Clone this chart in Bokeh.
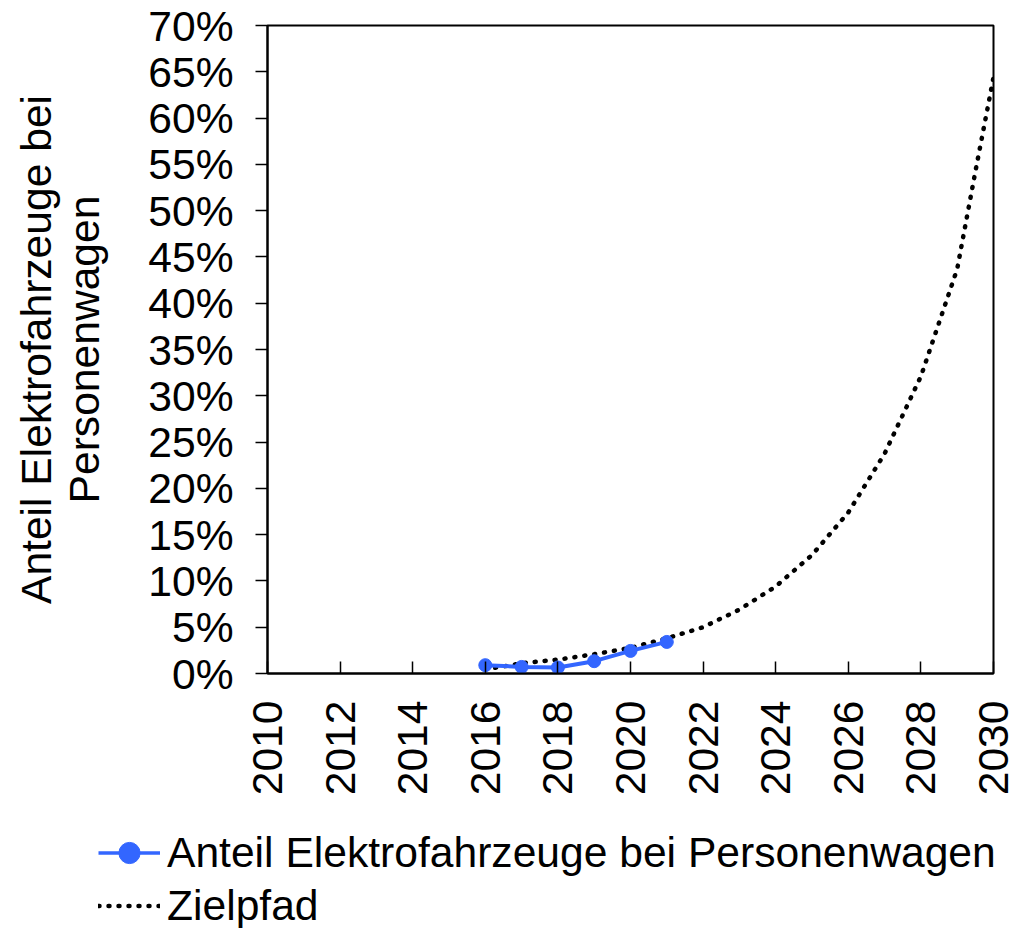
import math
from bokeh.plotting import figure
from bokeh.layouts import column
from bokeh.models import Legend, LegendItem, FixedTicker, NumeralTickFormatter, Range1d
from bokeh.embed import file_html
from bokeh.resources import INLINE

# ---- data ----
years_actual = [2016, 2017, 2018, 2019, 2020, 2021]
share_actual = [0.0090, 0.0071, 0.0065, 0.0133, 0.0244, 0.0341]

years_target = [2016, 2017, 2018, 2019, 2020, 2021, 2022, 2023, 2024, 2025,
                2026, 2027, 2028, 2029, 2029.5, 2030]
share_target = [0.0043, 0.0111, 0.0150, 0.0208, 0.0277, 0.0380, 0.0500, 0.0690,
                0.0940, 0.1280, 0.1740, 0.2375, 0.3210, 0.4370, 0.5420, 0.6440]

x_ticks = [2010, 2012, 2014, 2016, 2018, 2020, 2022, 2024, 2026, 2028, 2030]
y_ticks = [0.0, 0.05, 0.10, 0.15, 0.20, 0.25, 0.30, 0.35, 0.40, 0.45, 0.50,
           0.55, 0.60, 0.65, 0.70]

label_actual = "Anteil Elektrofahrzeuge bei Personenwagen"
label_target = "Zielpfad"
y_title = "Anteil Elektrofahrzeuge bei\nPersonenwagen"

FONT = "Liberation Sans"
FS = "42.6px"
BLUE = "#3366FF"
W = 1012
H_MAIN = 820
H_LEG = 108

p = figure(width=W, height=H_MAIN, output_backend="svg", toolbar_location=None,
           x_range=Range1d(2010, 2030), y_range=Range1d(0, 0.70),
           min_border_left=267, min_border_right=19, min_border_top=25,
           min_border_bottom=H_MAIN - 673)
p.frame_align = False

p.xgrid.visible = False
p.ygrid.visible = False
p.outline_line_color = "black"
p.outline_line_width = 2
p.background_fill_color = "white"
p.border_fill_color = "white"

target_style = dict(line_color="black", line_width=4.5, line_dash="1 9", line_cap="round")
actual_line_style = dict(line_color=BLUE, line_width=4)
actual_pt_style = dict(size=13, fill_color=BLUE, line_color=BLUE)

p.line(years_target, share_target, **target_style)
p.line(years_actual, share_actual, **actual_line_style)
p.scatter(years_actual, share_actual, **actual_pt_style)

xa = p.xaxis[0]
xa.ticker = FixedTicker(ticks=x_ticks)
xa.major_label_orientation = math.pi / 2
xa.major_tick_in = 12
xa.major_tick_out = 0
xa.minor_tick_in = 0
xa.minor_tick_out = 0
xa.major_label_standoff = 27
xa.axis_line_width = 2
xa.major_tick_line_width = 1.5
xa.major_label_text_font = FONT
xa.major_label_text_font_size = FS
xa.major_label_text_color = "black"

ya = p.yaxis[0]
ya.ticker = FixedTicker(ticks=y_ticks)
ya.formatter = NumeralTickFormatter(format="0%")
ya.major_tick_in = 0
ya.major_tick_out = 12
ya.minor_tick_in = 0
ya.minor_tick_out = 0
ya.major_label_standoff = 22
ya.axis_line_width = 2
ya.major_tick_line_width = 1.5
ya.major_label_text_font = FONT
ya.major_label_text_font_size = FS
ya.major_label_text_color = "black"
ya.axis_label = y_title
ya.axis_label_text_font = FONT
ya.axis_label_text_font_size = FS
ya.axis_label_text_font_style = "normal"
ya.axis_label_text_color = "black"
ya.axis_label_text_line_height = 1.0
ya.axis_label_standoff = 37

# ---- legend strip below the chart ----
q = figure(width=W, height=H_LEG, output_backend="svg", toolbar_location=None,
           x_range=Range1d(2010, 2030), y_range=Range1d(0, 0.70),
           x_axis_type=None, y_axis_type=None,
           min_border_left=0, min_border_right=0, min_border_top=0, min_border_bottom=0)
q.frame_align = False
q.xgrid.visible = False
q.ygrid.visible = False
q.outline_line_color = None
q.background_fill_color = "white"
q.border_fill_color = "white"

lg_line = q.line(years_actual, share_actual, visible=False, line_color=BLUE, line_width=3.5)
lg_pts = q.scatter(years_actual, share_actual, visible=False, size=11,
                   fill_color=BLUE, line_color=BLUE)
lg_target = q.line(years_target, share_target, visible=False, **target_style)

legend = Legend(items=[LegendItem(label=label_actual, renderers=[lg_line, lg_pts]),
                       LegendItem(label=label_target, renderers=[lg_target])],
                location=(98, -3.5), orientation="vertical",
                padding=0, margin=0, spacing=0,
                glyph_width=62, glyph_height=53, label_height=53,
                label_standoff=7, click_policy="none",
                label_text_font=FONT, label_text_font_size=FS,
                label_text_color="black",
                background_fill_alpha=0, border_line_alpha=0)
q.add_layout(legend)

layout = column(p, q, spacing=0)
open("out.html", "w").write(file_html(layout, INLINE))
